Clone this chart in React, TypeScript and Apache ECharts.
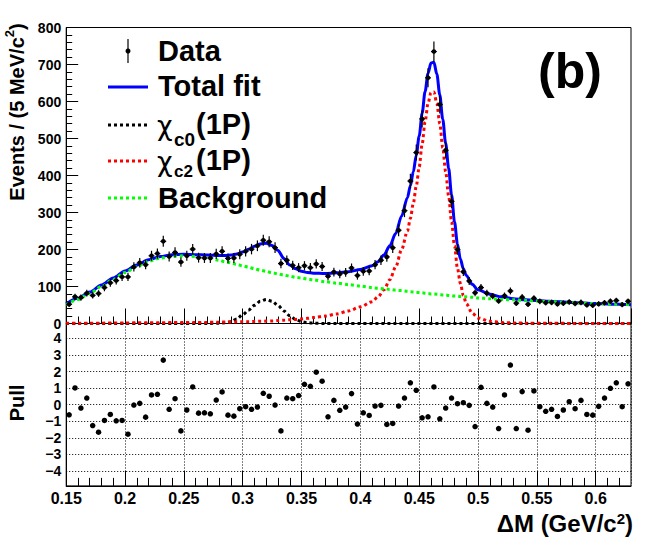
import React, { useEffect, useRef } from "react";
import * as echarts from "echarts";

// ---- data (5 MeV bins from 0.15 to 0.63 GeV/c^2) ----
const BIN_LO = 0.15;
const BIN_W = 0.005;
const COUNTS = [
  52, 72, 70, 82, 76, 81, 97, 110, 116, 126,
  126, 153, 164, 159, 183, 189, 222, 181, 192, 166,
  183, 201, 178, 177, 177, 188, 195, 176, 177, 187,
  195, 201, 210, 225, 221, 205, 162, 171, 157, 151,
  156, 151, 161, 154, 128, 139, 134, 138, 150, 130,
  141, 142, 159, 171, 180, 205, 252, 305, 385, 462,
  553, 664, 735, 592, 468, 330, 200, 140, 115, 83,
  97, 82, 74, 61, 75, 88, 55, 71, 52, 68,
  60, 56, 57, 53, 55, 58, 54, 57, 50, 49,
  53, 56, 60, 62, 51, 60,
];
const PULLS = [
  -0.61, 1.01, -0.2, 0.4, -1.26, -1.66, -0.95, -0.59, -0.97, -0.95,
  -1.78, -0.02, 0.08, -0.75, 0.59, 0.63, 2.69, -0.28, 0.36, -1.58,
  -0.32, 1.07, -0.51, -0.49, -0.55, 0.28, 0.77, -0.63, -0.69, -0.24,
  -0.12, -0.28, -0.14, 0.69, 0.51, -0.02, -1.58, 0.4, 0.36, 0.55,
  1.23, 1.11, 1.96, 1.42, -0.73, 0.26, -0.34, -0.14, 0.67, -1.17,
  -0.49, -0.65, -0.08, -0.04, -1.19, -1.13, -0.08, 0.4, 1.32, 0.87,
  -0.79, -0.73, 1.07, -0.85, -0.2, 0.4, 0.06, 0.12, -0.04, -1.32,
  1.05, 0.08, -0.14, -1.44, 0.59, 2.39, -1.44, 0.79, -1.54, 0.83,
  -0.12, -0.4, -0.28, -0.71, -0.32, 0.18, -0.24, 0.26, -0.59, -0.63,
  -0.1, 0.4, 0.99, 1.32, -0.12, 1.26,
];

// fit curves sampled at CURVE_X
const CURVE_X = [
  0.15, 0.16, 0.17, 0.18, 0.19, 0.2, 0.21, 0.22, 0.23, 0.24, 0.25, 0.26, 0.27, 0.28,
  0.285, 0.29, 0.295, 0.3, 0.305, 0.31, 0.315, 0.32, 0.325, 0.33, 0.335, 0.34, 0.345, 0.35, 0.355, 0.36,
  0.37, 0.38, 0.39, 0.4, 0.41,
  0.415, 0.42, 0.425, 0.43, 0.435, 0.44,
  0.4425, 0.445, 0.4475, 0.45, 0.4525, 0.455, 0.4575, 0.46, 0.4625, 0.465,
  0.4675, 0.47, 0.4725, 0.475, 0.4775, 0.48, 0.4825, 0.485, 0.4875, 0.49,
  0.495, 0.5, 0.51, 0.52, 0.53, 0.54, 0.56, 0.58, 0.6, 0.62, 0.63,
];
const TOTAL_FIT = [
  53, 68, 85, 104, 123, 142, 158, 172, 181, 186, 187, 186, 185, 184,
  184, 185, 188, 193, 201, 209, 215, 217, 211, 197, 176, 158, 148, 141, 138, 136,
  135, 137, 140, 146, 156,
  167, 185, 210, 243, 290, 340,
  372, 410, 455, 507, 568, 627, 676, 704, 706, 674,
  618, 552, 487, 420, 348, 275, 215, 174, 148, 130,
  106, 91, 79, 72, 67, 64, 60, 57, 54, 52, 51,
];
const CHI_C0 = [
  0, 0, 0, 0, 0, 0, 0, 0, 0, 0, 0, 0, 0, 1,
  2, 5, 12, 24, 36, 49, 60, 65, 60, 49, 34, 21, 11, 5, 2, 1,
  0, 0, 0, 0, 0,
  0, 0, 0, 0, 0, 0,
  0, 0, 0, 0, 0, 0, 0, 0, 0, 0,
  0, 0, 0, 0, 0, 0, 0, 0, 0, 0,
  0, 0, 0, 0, 0, 0, 0, 0, 0, 0, 0,
];
const CHI_C2 = [
  1, 1, 1, 1, 1.5, 1.5, 2, 2, 2, 2.5, 2.5, 3, 3, 3.5,
  4, 4, 4.5, 5, 5, 5.5, 6, 6.5, 7, 8, 9, 10, 11, 12.5, 14, 16,
  20, 26, 34, 45, 59,
  72, 91, 118, 153, 199, 250,
  284, 325, 371, 423, 485, 545, 595, 624, 626, 595,
  540, 475, 410, 345, 275, 210, 150, 108, 76, 54,
  28, 15, 6, 3, 1.5, 1, 0.5, 0.3, 0.2, 0.1, 0.1,
];
const BACKGROUND = [
  50, 65, 82, 100, 119, 138, 154, 168, 177, 182, 183, 181, 177, 171,
  167, 164, 160, 156, 152, 148, 144, 141, 137, 134, 131, 128, 125, 123, 120, 118,
  113, 109, 105, 101, 97,
  95, 94, 92, 90, 89, 87,
  86, 85, 84, 84, 83, 82, 81, 80, 80, 79,
  78, 77, 77, 76, 75, 74, 74, 73, 72, 72,
  71, 69, 67, 65, 64, 62, 59, 56, 54, 52, 51,
];
const PULL_TICKS = [-4, -3, -2, -1, 0, 1, 2, 3, 4];

const FONT = '"Liberation Sans", Arial, Helvetica, sans-serif';

const xMinor: number[] = [];
for (let k = 16; k <= 62; k++) if (k % 5 !== 0) xMinor.push(k / 100);

const pairs = (xs: number[], ys: number[]) => xs.map((x, i) => [x, ys[i]]);

export default function App() {
  const ref = useRef<HTMLDivElement>(null);
  useEffect(() => {
    if (!ref.current) return;
    const chart = echarts.init(ref.current, undefined, { renderer: "svg" });

    const binCenters = COUNTS.map((_, i) => BIN_LO + BIN_W * (i + 0.5));
    const dataPts = COUNTS.map((c, i) => [binCenters[i], c, Math.sqrt(c)]);
    const pullPts = PULLS.map((p, i) => [binCenters[i], p]);

    const G0 = { left: 66.2, top: 27.5, width: 564.8, height: 296 };
    const G1 = { left: 66.2, top: 323.5, width: 564.8, height: 162.4 };

    const xLab = (v: number) => String(Math.round(v * 100) / 100);
    const pullLab = (v: number) => (v < 0 ? "\u2212" : "") + Math.abs(Math.round(v));

    const curve = (name: string, ys: number[], color: string, dashed: boolean, z: number) => ({
      name,
      type: "line",
      xAxisIndex: 0,
      yAxisIndex: 0,
      data: pairs(CURVE_X, ys),
      showSymbol: false,
      smooth: 0.3,
      smoothMonotone: "x",
      lineStyle: { color, width: 3, type: dashed ? [3, 3] : "solid", opacity: 1 },
      z,
      silent: true,
    });

    const option: any = {
      animation: false,
      backgroundColor: "#fff",
      grid: [
        { ...G0, show: true, borderColor: "#000", borderWidth: 1, backgroundColor: "transparent", outerBoundsMode: "none" },
        { ...G1, show: true, borderColor: "#000", borderWidth: 1, backgroundColor: "transparent", outerBoundsMode: "none" },
      ],
      xAxis: [
        {
          gridIndex: 0, type: "value", min: 0.15, max: 0.63, interval: 0.05, position: "bottom",
          axisLine: { show: true, onZero: false, lineStyle: { color: "#000", width: 1 } },
          axisTick: { show: true, inside: true, length: 15, lineStyle: { color: "#000", width: 1 } },
          axisLabel: { show: false }, splitLine: { show: false },
        },
        {
          gridIndex: 0, type: "value", min: 0.15, max: 0.63, position: "bottom",
          axisLine: { show: false, onZero: false },
          axisTick: { show: true, inside: true, length: 7, customValues: xMinor, lineStyle: { color: "#000", width: 1 } },
          axisLabel: { show: false }, splitLine: { show: false },
        },
        {
          gridIndex: 1, type: "value", min: 0.15, max: 0.63, interval: 0.05, position: "bottom",
          axisLine: { show: true, onZero: false, lineStyle: { color: "#000", width: 1 } },
          axisTick: { show: true, inside: true, length: 15, lineStyle: { color: "#000", width: 1 } },
          axisLabel: {
            show: true, color: "#000", fontFamily: FONT, fontWeight: "bold", fontSize: 16,
            margin: 5, showMaxLabel: false, showMinLabel: true, formatter: xLab,
          },
          splitLine: { show: true, lineStyle: { color: "#000", width: 1, type: [1, 2] } },
        },
        {
          gridIndex: 1, type: "value", min: 0.15, max: 0.63, position: "bottom",
          axisLine: { show: false, onZero: false },
          axisTick: { show: true, inside: true, length: 8, customValues: xMinor, lineStyle: { color: "#000", width: 1 } },
          axisLabel: { show: false }, splitLine: { show: false },
        },
      ],
      yAxis: [
        {
          gridIndex: 0, type: "value", min: 0, max: 800, interval: 100,
          axisLine: { show: true, onZero: false, lineStyle: { color: "#000", width: 1 } },
          axisTick: { show: true, inside: true, length: 12, lineStyle: { color: "#000", width: 1 } },
          minorTick: { show: true, splitNumber: 5, length: 6, lineStyle: { color: "#000", width: 1 } },
          axisLabel: { color: "#000", fontFamily: FONT, fontWeight: "bold", fontSize: 14, margin: 5 },
          splitLine: { show: false },
        },
        {
          gridIndex: 1, type: "value", min: -4.9, max: 4.9,
          axisLine: { show: true, onZero: false, lineStyle: { color: "#000", width: 1 } },
          axisTick: { show: false, customValues: PULL_TICKS },
          axisLabel: {
            customValues: PULL_TICKS, color: "#000", fontFamily: FONT, fontWeight: "bold",
            fontSize: 14, margin: 5, formatter: pullLab,
          },
          splitLine: { show: true, lineStyle: { color: "#000", width: 1, type: [1, 2] } },
        },
      ],
      series: [
        curve("Total fit", TOTAL_FIT, "#0000ff", false, 2),
        curve("chi_c0", CHI_C0, "#000000", true, 3),
        curve("chi_c2", CHI_C2, "#ff0000", true, 4),
        curve("Background", BACKGROUND, "#00ff00", true, 5),
        {
          name: "Data",
          type: "custom",
          xAxisIndex: 0,
          yAxisIndex: 0,
          data: dataPts,
          encode: { x: 0, y: 1 },
          z: 10,
          silent: true,
          renderItem: (params: any, api: any) => {
            const x = api.value(0);
            const y = api.value(1);
            const e = api.value(2);
            const c = api.coord([x, y]);
            const t = api.coord([x, y + e]);
            const b = api.coord([x, y - e]);
            const l = api.coord([x - BIN_W / 2, y]);
            const r = api.coord([x + BIN_W / 2, y]);
            return {
              type: "group",
              children: [
                { type: "line", shape: { x1: c[0], y1: t[1], x2: c[0], y2: b[1] }, style: { stroke: "#000", lineWidth: 1.2 } },
                { type: "line", shape: { x1: l[0], y1: c[1], x2: r[0], y2: c[1] }, style: { stroke: "#000", lineWidth: 1.2 } },
                { type: "circle", shape: { cx: c[0], cy: c[1], r: 2.3 }, style: { fill: "#000" } },
              ],
            };
          },
        },
        {
          name: "Pull",
          type: "scatter",
          xAxisIndex: 2,
          yAxisIndex: 1,
          data: pullPts,
          symbol: "circle",
          symbolSize: 5.5,
          itemStyle: { color: "#000", opacity: 1 },
          z: 10,
          silent: true,
        },
      ],
      graphic: [
        // axis titles
        {
          type: "text", x: 15, y: 112, rotation: Math.PI / 2,
          style: {
            text: "{m|Events / (5 MeV/c}{s|2}{m|)}",
            align: "center", verticalAlign: "middle",
            rich: {
              m: { fontFamily: FONT, fontWeight: "bold", fontSize: 20, lineHeight: 24, fill: "#000", verticalAlign: "bottom" },
              s: { fontFamily: FONT, fontWeight: "bold", fontSize: 13, lineHeight: 13, fill: "#000", verticalAlign: "top" },
            },
          },
        },
        {
          type: "text", x: 17, y: 403, rotation: Math.PI / 2,
          style: { text: "Pull", fontFamily: FONT, fontWeight: "bold", fontSize: 20, fill: "#000", align: "center", verticalAlign: "middle" },
        },
        {
          type: "text", x: 633, y: 523,
          style: {
            text: "{m|\u0394M (GeV/c}{s|2}{m|)}",
            align: "right", verticalAlign: "middle",
            rich: {
              m: { fontFamily: FONT, fontWeight: "bold", fontSize: 24, lineHeight: 24, fill: "#000", verticalAlign: "bottom" },
              s: { fontFamily: FONT, fontWeight: "bold", fontSize: 15, lineHeight: 14, fill: "#000", verticalAlign: "top" },
            },
          },
        },
        // panel label
        {
          type: "text", x: 570, y: 71,
          style: { text: "(b)", fontFamily: FONT, fontWeight: "bold", fontSize: 50, fill: "#000", align: "center", verticalAlign: "middle" },
        },
        // legend: Data
        { type: "line", shape: { x1: 128, y1: 39, x2: 128, y2: 63 }, style: { stroke: "#000", lineWidth: 1.2 } },
        { type: "circle", shape: { cx: 128, cy: 51, r: 2.5 }, style: { fill: "#000" } },
        {
          type: "text", x: 158, y: 51,
          style: { text: "Data", fontFamily: FONT, fontWeight: "bold", fontSize: 29, fill: "#000", verticalAlign: "middle" },
        },
        // legend: Total fit
        { type: "line", shape: { x1: 108, y1: 87, x2: 148, y2: 87 }, style: { stroke: "#0000ff", lineWidth: 3 } },
        {
          type: "text", x: 158, y: 86,
          style: { text: "Total fit", fontFamily: FONT, fontWeight: "bold", fontSize: 29, fill: "#000", verticalAlign: "middle" },
        },
        // legend: chi_c0
        { type: "line", shape: { x1: 108, y1: 125, x2: 148, y2: 125 }, style: { stroke: "#000", lineWidth: 3, lineDash: [3, 3] } },
        { type: "text", x: 157, y: 125, style: { text: "\u03C7", fontFamily: '"DejaVu Sans", sans-serif', fontSize: 27, fill: "#000", verticalAlign: "middle" } },
        { type: "text", x: 174, y: 139, style: { text: "c0", fontFamily: FONT, fontWeight: "bold", fontSize: 19, fill: "#000", verticalAlign: "middle" } },
        { type: "text", x: 196, y: 124, style: { text: "(1P)", fontFamily: FONT, fontWeight: "bold", fontSize: 29, fill: "#000", verticalAlign: "middle" } },
        // legend: chi_c2
        { type: "line", shape: { x1: 108, y1: 161, x2: 148, y2: 161 }, style: { stroke: "#ff0000", lineWidth: 3, lineDash: [3, 3] } },
        { type: "text", x: 157, y: 161, style: { text: "\u03C7", fontFamily: '"DejaVu Sans", sans-serif', fontSize: 27, fill: "#000", verticalAlign: "middle" } },
        { type: "text", x: 174, y: 171, style: { text: "c2", fontFamily: FONT, fontWeight: "bold", fontSize: 17, fill: "#000", verticalAlign: "middle" } },
        { type: "text", x: 196, y: 160, style: { text: "(1P)", fontFamily: FONT, fontWeight: "bold", fontSize: 29, fill: "#000", verticalAlign: "middle" } },
        // legend: Background
        { type: "line", shape: { x1: 108, y1: 198, x2: 148, y2: 198 }, style: { stroke: "#00ff00", lineWidth: 3, lineDash: [3, 3] } },
        {
          type: "text", x: 158, y: 198,
          style: { text: "Background", fontFamily: FONT, fontWeight: "bold", fontSize: 29, fill: "#000", verticalAlign: "middle" },
        },
      ],
    };

    chart.setOption(option);
    return () => chart.dispose();
  }, []);

  return (
    <div
      ref={ref}
      style={{ position: "fixed", left: 0, top: 0, width: 664, height: 540, background: "#fff" }}
    />
  );
}
